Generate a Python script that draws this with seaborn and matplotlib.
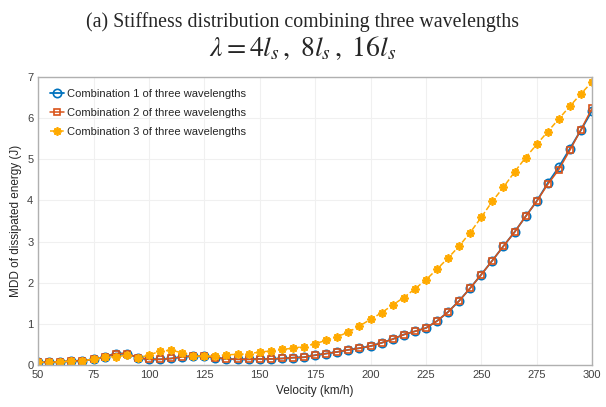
import matplotlib
matplotlib.use('Agg')
import matplotlib.pyplot as plt
import seaborn as sns

# velocity in km/h, one point every 5 km/h
velocity = list(range(50, 305, 5))

combo1 = [0.07, 0.07, 0.08, 0.10, 0.11, 0.14, 0.20, 0.28, 0.28, 0.18,
          0.14, 0.14, 0.16, 0.20, 0.22, 0.21, 0.18, 0.15, 0.14, 0.14,
          0.15, 0.15, 0.16, 0.18, 0.19, 0.24, 0.28, 0.32, 0.37, 0.41,
          0.46, 0.54, 0.63, 0.74, 0.82, 0.90, 1.07, 1.29, 1.56, 1.87,
          2.20, 2.54, 2.89, 3.23, 3.61, 3.98, 4.42, 4.81, 5.26, 5.71,
          6.18]

combo2 = [0.07, 0.07, 0.08, 0.10, 0.11, 0.14, 0.20, 0.28, 0.28, 0.18,
          0.14, 0.14, 0.16, 0.20, 0.22, 0.21, 0.18, 0.15, 0.14, 0.14,
          0.15, 0.15, 0.16, 0.18, 0.19, 0.24, 0.28, 0.32, 0.37, 0.41,
          0.46, 0.54, 0.63, 0.74, 0.82, 0.90, 1.07, 1.29, 1.56, 1.87,
          2.20, 2.54, 2.89, 3.23, 3.61, 3.98, 4.39, 4.75, 5.22, 5.72,
          6.24]

combo3 = [0.07, 0.07, 0.08, 0.10, 0.11, 0.14, 0.20, 0.20, 0.24, 0.18,
          0.24, 0.34, 0.36, 0.30, 0.22, 0.22, 0.22, 0.25, 0.26, 0.27,
          0.32, 0.34, 0.38, 0.41, 0.45, 0.52, 0.60, 0.69, 0.80, 0.95,
          1.11, 1.27, 1.46, 1.64, 1.85, 2.07, 2.33, 2.60, 2.89, 3.22,
          3.59, 3.98, 4.32, 4.69, 5.04, 5.36, 5.67, 5.98, 6.29, 6.59,
          6.88]

labels = ['Combination 1 of three wavelengths',
          'Combination 2 of three wavelengths',
          'Combination 3 of three wavelengths']

sns.set_style('whitegrid')
plt.rcParams['font.family'] = ['Liberation Sans', 'DejaVu Sans']
plt.rcParams['mathtext.fontset'] = 'stix'

fig = plt.figure(figsize=(6.06, 4.07), dpi=100)
ax = fig.add_axes([0.063, 0.103, 0.914, 0.708])

sns.lineplot(x=velocity, y=combo1, ax=ax, color='#0072BD', marker='o',
             markersize=6, mfc='none', mec='#0072BD', mew=1.2, lw=1.3,
             label=labels[0])
sns.lineplot(x=velocity, y=combo2, ax=ax, color='#D95319', marker='s',
             markersize=5, mfc='none', mec='#D95319', mew=1.2, lw=1.1,
             label=labels[1])
# MATLAB-like asterisk marker
sns.lineplot(x=velocity, y=combo3, ax=ax, color='#FFAA00', marker=(8, 2, 0),
             markersize=6, mec='#FFAA00', mew=1.3, lw=1.1,
             linestyle='--', label=labels[2])

ax.set_xlim(50, 300)
ax.set_ylim(0, 7)
ax.set_xticks(range(50, 301, 25))
ax.set_yticks(range(0, 8))
ax.tick_params(labelsize=8, colors='#404040', length=3, direction='in')
ax.grid(color='#f0f0f0', linewidth=0.8)
for side in ax.spines.values():
    side.set_color('#b0b0b0')
    side.set_linewidth(1.0)

ax.set_xlabel('Velocity (km/h)', fontsize=8.5, color='#262626')
ax.set_ylabel('MDD of dissipated energy (J)', fontsize=8.5, color='#262626')

leg = ax.legend(loc='upper left', frameon=False, fontsize=8, handlelength=1.2,
                handletextpad=0.3, borderaxespad=0.7, labelspacing=0.8)

fig.text(0.5, 0.946, '(a) Stiffness distribution combining three wavelengths',
         ha='center', va='center', fontsize=14.3, family='Liberation Serif')
fig.text(0.5, 0.882, r'$\lambda = 4l_s\,,\ 8l_s\,,\ 16l_s$',
         ha='center', va='center', fontsize=20)

fig.savefig('out.png', dpi=100)
